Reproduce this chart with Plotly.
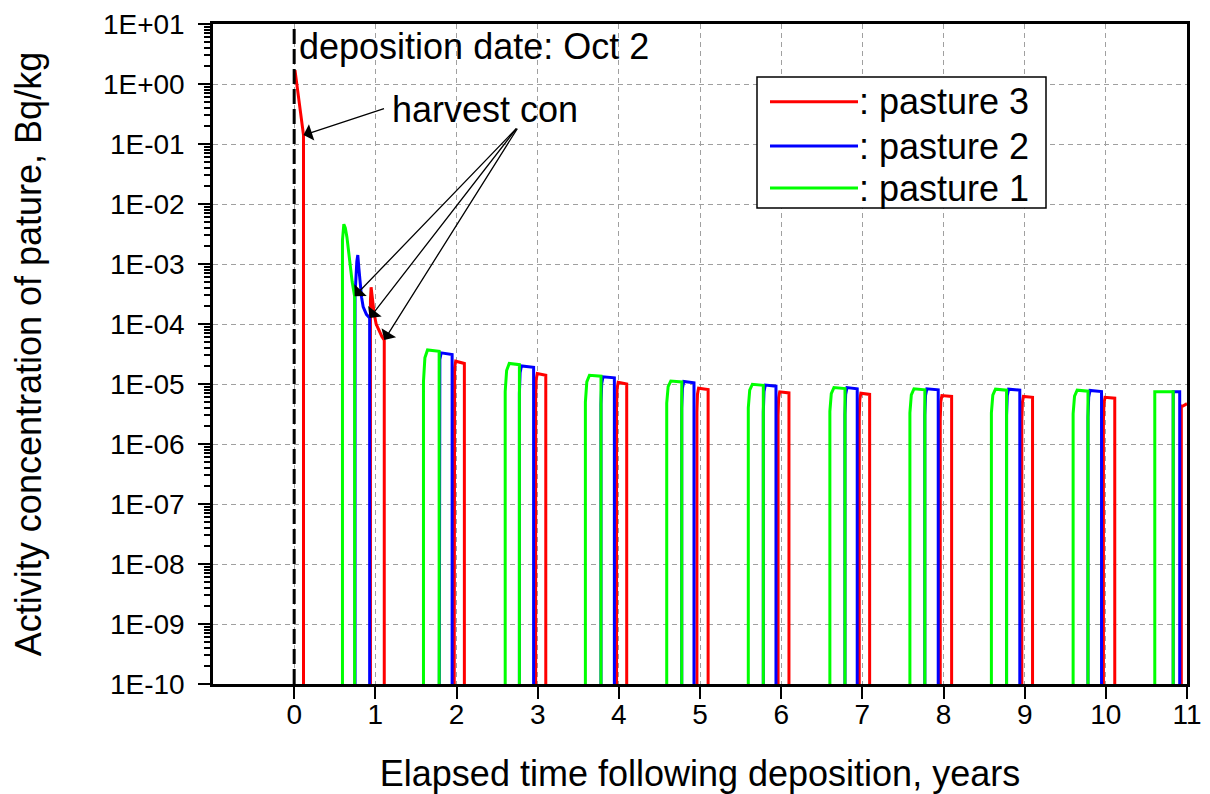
import math
import plotly.graph_objects as go

# ---------------- data (years after deposition, Bq/kg) ----------------
ZERO = 1e-12  # stands for zero concentration (pasture not harvested), below axis floor

# pasture 3: concentration right after deposition until first harvest
p3_dep_t = [0.01, 0.115]
p3_dep_v = [1.7, 0.141]

# first regrowth season (year 0-1)
p1_first_t = [0.595, 0.612, 0.63, 0.65, 0.67, 0.69, 0.715, 0.745]
p1_first_v = [2.5e-3, 4.6e-3, 4.0e-3, 2.8e-3, 1.6e-3, 9.0e-4, 5.0e-4, 2.9e-4]

p2_first_t = [0.75, 0.772, 0.784, 0.797, 0.81, 0.83, 0.85, 0.89, 0.93]
p2_first_v = [3.0e-4, 1.1e-3, 1.41e-3, 8.5e-4, 4.8e-4, 2.8e-4, 1.94e-4, 1.45e-4, 1.26e-4]

p3_first_t = [0.94, 0.948, 0.965, 0.985, 1.01, 1.04, 1.08, 1.11]
p3_first_v = [2.5e-4, 4.1e-4, 2.6e-4, 1.5e-4, 1.0e-4, 7.9e-5, 6.2e-5, 5.4e-5]

# following seasons (years 1..10)
p1_on   = [1.593, 2.600, 3.588, 4.590, 5.595, 6.600, 7.586, 8.590, 9.597, 10.603]
p1_off  = [1.786, 2.775, 3.780, 4.775, 5.780, 6.786, 7.770, 8.777, 9.780, 10.830]
p1_rise = [1.1e-5, 7.5e-6, 5.0e-6, 4.8e-6, 4.0e-6, 3.5e-6, 3.3e-6, 3.3e-6, 3.2e-6, 7.4e-6]
p1_top  = [3.7e-5, 2.2e-5, 1.4e-5, 1.12e-5, 9.9e-6, 8.7e-6, 8.3e-6, 8.2e-6, 7.9e-6, 7.4e-6]
p1_end  = [3.5e-5, 2.1e-5, 1.35e-5, 1.08e-5, 9.5e-6, 8.4e-6, 8.0e-6, 7.9e-6, 7.6e-6, 7.4e-6]

p2_on   = p1_off
p2_off  = [1.946, 2.950, 3.945, 4.926, 5.936, 6.937, 7.935, 8.940, 9.947, 10.910]
p2_rise = [1.2e-5, 7.0e-6, 4.6e-6, 3.9e-6, 3.4e-6, 3.1e-6, 3.0e-6, 3.0e-6, 2.8e-6, 7.4e-6]
p2_top  = [3.3e-5, 2.0e-5, 1.32e-5, 1.1e-5, 9.6e-6, 8.7e-6, 8.3e-6, 8.2e-6, 7.8e-6, 7.4e-6]
p2_end  = [3.1e-5, 1.9e-5, 1.27e-5, 1.05e-5, 9.2e-6, 8.3e-6, 8.0e-6, 7.9e-6, 7.5e-6, 7.4e-6]

p3_on   = [1.970, 2.975, 3.972, 4.962, 5.962, 6.962, 7.960, 8.965, 9.970, 10.930]
p3_off  = [2.097, 3.100, 4.097, 5.100, 6.096, 7.090, 8.100, 9.097, 10.110, 11.000]
p3_rise = [9.0e-6, 6.0e-6, 4.3e-6, 3.4e-6, 3.0e-6, 2.8e-6, 2.6e-6, 2.5e-6, 2.4e-6, 4.3e-6]
p3_top  = [2.4e-5, 1.5e-5, 1.07e-5, 8.5e-6, 7.4e-6, 7.0e-6, 6.4e-6, 6.2e-6, 6.0e-6, 4.3e-6]
p3_end  = [2.2e-5, 1.4e-5, 1.0e-5, 8.1e-6, 7.1e-6, 6.7e-6, 6.2e-6, 6.0e-6, 5.8e-6, 4.7e-6]

x_ticks = list(range(0, 12))
y_exps = list(range(1, -11, -1))
y_ticktext = [f"1E{k:+03d}" for k in y_exps]


# ---------------- build poly-lines ----------------
def add_segment(xs, ys, ts, vs, rise=True, drop=True):
    if rise:
        xs.append(ts[0]); ys.append(ZERO)
    xs.extend(ts); ys.extend(vs)
    if drop:
        xs.append(ts[-1]); ys.append(ZERO)


def add_cycles(xs, ys, on, off, rise, top, end, ramp, drop_last=True):
    n = len(on)
    for i in range(n):
        shoulder = rise[i] ** 0.25 * top[i] ** 0.75
        ts = [on[i], on[i] + 0.35 * ramp, on[i] + ramp, off[i]]
        vs = [rise[i], shoulder, top[i], end[i]]
        add_segment(xs, ys, ts, vs, rise=True, drop=(drop_last or i < n - 1))


g_x, g_y = [], []
add_segment(g_x, g_y, p1_first_t, p1_first_v)
add_cycles(g_x, g_y, p1_on, p1_off, p1_rise, p1_top, p1_end, 0.05)

b_x, b_y = [], []
add_segment(b_x, b_y, p2_first_t, p2_first_v)
add_cycles(b_x, b_y, p2_on, p2_off, p2_rise, p2_top, p2_end, 0.025)

r_x, r_y = [], []
add_segment(r_x, r_y, p3_dep_t, p3_dep_v, rise=False)
add_segment(r_x, r_y, p3_first_t, p3_first_v)
add_cycles(r_x, r_y, p3_on, p3_off, p3_rise, p3_top, p3_end, 0.02, drop_last=False)

FONT = "Arial, 'Liberation Sans', sans-serif"
RED, BLUE, GREEN = "#ff0000", "#0000ff", "#00ff00"
BIG = 36

fig = go.Figure()
fig.add_trace(go.Scatter(x=r_x, y=r_y, mode="lines", name=": pasture 3",
                         line=dict(color=RED, width=3), showlegend=False))
fig.add_trace(go.Scatter(x=b_x, y=b_y, mode="lines", name=": pasture 2",
                         line=dict(color=BLUE, width=3), showlegend=False))
fig.add_trace(go.Scatter(x=g_x, y=g_y, mode="lines", name=": pasture 1",
                         line=dict(color=GREEN, width=3), showlegend=False))

# deposition date marker
fig.add_shape(type="line", xref="x", yref="paper", x0=0, x1=0, y0=0, y1=1,
              line=dict(color="black", width=3, dash="15px,5px"), layer="above")

minor_vals = [m * 10.0 ** k for k in range(-10, 1) for m in range(2, 10)]

fig.update_xaxes(
    range=[-1, 11], tickmode="array", tickvals=x_ticks, ticktext=[str(v) for v in x_ticks],
    ticks="outside", ticklen=12, tickwidth=2, tickcolor="black",
    showline=True, linewidth=2.5, linecolor="black", mirror=True,
    showgrid=True, gridcolor="#a0a0a0", gridwidth=1.2, griddash="5px,4px",
    zeroline=False, tickfont=dict(family=FONT, size=28, color="black"),
    ticklabelstandoff=-8,
    title=dict(text="Elapsed time following deposition, years",
               font=dict(family=FONT, size=BIG, color="black"), standoff=32),
)
fig.update_yaxes(
    type="log", range=[-10, 1], tickmode="array",
    tickvals=[10.0 ** k for k in y_exps], ticktext=y_ticktext,
    ticks="outside", ticklen=12, tickwidth=2, tickcolor="black",
    minor=dict(tickmode="array", tickvals=minor_vals, ticks="outside", ticklen=6,
               tickwidth=1.5, tickcolor="black", showgrid=False),
    showline=True, linewidth=2.5, linecolor="black", mirror=True,
    showgrid=True, gridcolor="#a0a0a0", gridwidth=1.2, griddash="5px,4px",
    zeroline=False, tickfont=dict(family=FONT, size=28, color="black"),
    ticklabelstandoff=8,
    title=dict(text="Activity concentration of pature, Bq/kg",
               font=dict(family=FONT, size=BIG, color="black"), standoff=55),
)

# text annotations
fig.add_annotation(x=0.04, y=0.633, xref="x", yref="y", text="deposition date: Oct 2",
                   showarrow=False, xanchor="left", yanchor="middle",
                   font=dict(family=FONT, size=BIG, color="black"))
fig.add_annotation(x=1.18, y=-0.433, xref="x", yref="y", text="harvest con",
                   showarrow=False, xanchor="left", yanchor="middle",
                   font=dict(family=FONT, size=BIG, color="black"))

arrows = [
    (p3_dep_t[-1], p3_dep_v[-1], 82, -27),
    (p1_first_t[-1], p1_first_v[-1], 163, -169),
    (p2_first_t[-1], p2_first_v[-1], 148, -191),
    (p3_first_t[-1], p3_first_v[-1], 134, -213),
]
for hx, hv, dx, dy in arrows:
    fig.add_annotation(x=hx, y=math.log10(hv), xref="x", yref="y", text="",
                       showarrow=True, arrowhead=1, arrowsize=2.2, arrowwidth=1.3,
                       arrowcolor="black", ax=dx, ay=dy, standoff=0)

# page offset of the browser (body margin) is compensated in the margins
OFF = 8
L, R_, T, B = 213 - OFF, 1187 - OFF, 24 - OFF, 684 - OFF


def px(xp):
    return (xp - OFF - L) / (R_ - L)


def py(yp):
    return (B - (yp - OFF)) / (B - T)


# custom legend (long line samples as in the original)
fig.add_shape(type="rect", xref="paper", yref="paper", x0=px(757), x1=px(1046),
              y0=py(208), y1=py(77), line=dict(color="black", width=1.5),
              fillcolor="white", layer="above")
for col, label, yrow in [(RED, ": pasture 3", 101.7), (BLUE, ": pasture 2", 146),
                         (GREEN, ": pasture 1", 188)]:
    fig.add_shape(type="line", xref="paper", yref="paper", x0=px(770), x1=px(858),
                  y0=py(yrow), y1=py(yrow), line=dict(color=col, width=3), layer="above")
    fig.add_annotation(x=px(857), y=py(yrow), xref="paper", yref="paper", text=label,
                       showarrow=False, xanchor="left", yanchor="middle",
                       font=dict(family=FONT, size=BIG, color="black"))

fig.update_layout(
    width=1210, height=794,
    margin=dict(l=L, r=1210 - R_, t=T, b=794 - B, autoexpand=False),
    plot_bgcolor="white", paper_bgcolor="white",
    showlegend=False,
)

fig.write_html("out.html")
